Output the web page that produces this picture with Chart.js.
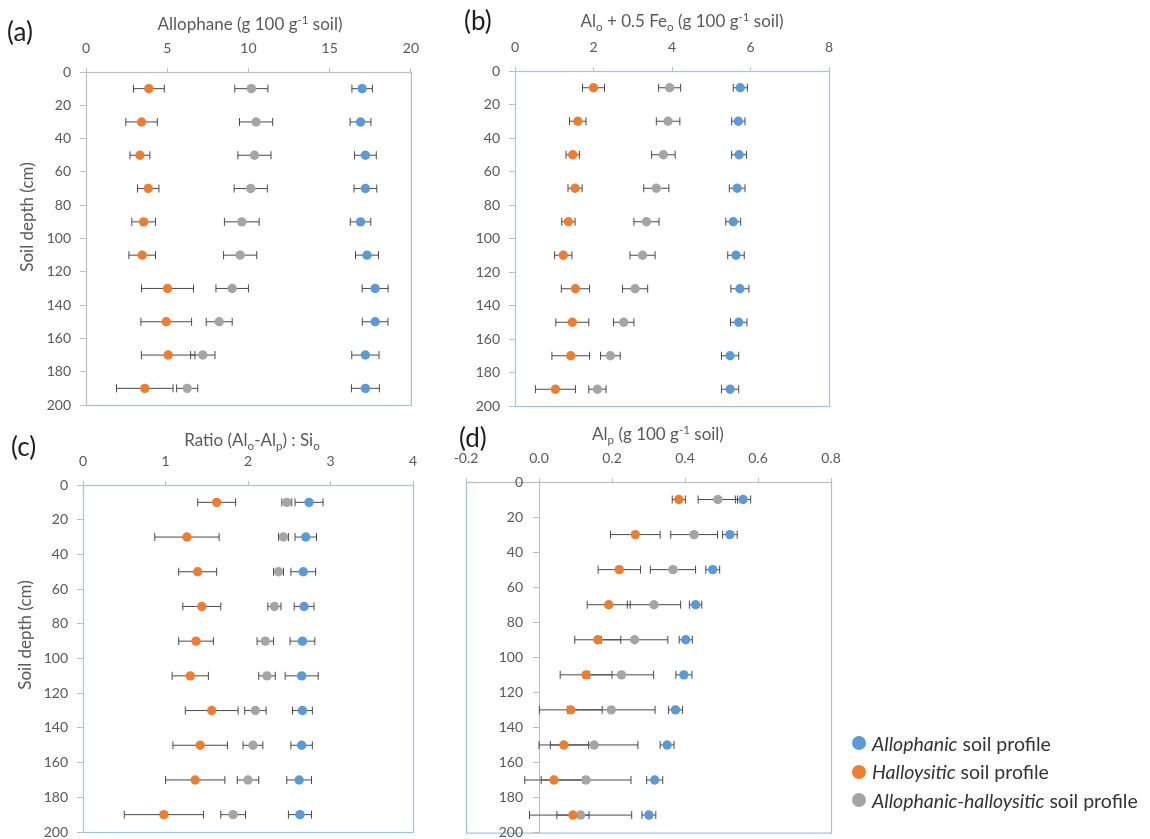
<!DOCTYPE html>
<html>
<head>
<meta charset="utf-8">
<script src="https://cdn.jsdelivr.net/npm/chart.js@4.4.0/dist/chart.umd.min.js"></script>
<style>
  html, body { margin: 0; padding: 0; background: #fff; width: 1150px; height: 839px; overflow: hidden; font-family: Lato, "Open Sans", sans-serif; }
  .panel { position: absolute; }
  .panel canvas { display: block; }
  .tag { position: absolute; color: #1e1e1e; font-size: 26px; line-height: 30px; white-space: nowrap; }
  .ttl { position: absolute; color: #595959; font-size: 17px; line-height: 22px; white-space: nowrap; transform: translateX(-50%); }
  .ytl { position: absolute; color: #595959; font-size: 17px; line-height: 22px; white-space: nowrap; transform: translate(-50%, -50%) rotate(-90deg); }
  sup, sub { font-size: 68%; line-height: 0; }
  sup { vertical-align: 0.55em; }
  sub { vertical-align: -0.35em; }
  .legend { position: absolute; left: 852px; top: 729px; color: #333; font-size: 19.5px; }
  .legend div { height: 28.5px; display: flex; align-items: center; white-space: nowrap; }
  .legend span.dot { display: inline-block; width: 14px; height: 14px; border-radius: 50%; margin-right: 6px; }
  .legend i { margin-right: 5px; }
</style>
</head>
<body>

<div class="panel" style="left:0px;top:0px"><canvas id="pa" width="430" height="425"></canvas></div>
<div class="panel" style="left:430px;top:0px"><canvas id="pb" width="430" height="425"></canvas></div>
<div class="panel" style="left:0px;top:420px"><canvas id="pc" width="430" height="430"></canvas></div>
<div class="panel" style="left:430px;top:420px"><canvas id="pd" width="430" height="430"></canvas></div>

<div class="tag" style="left:7px;top:16px">(a)</div>
<div class="tag" style="left:464px;top:5px">(b)</div>
<div class="tag" style="left:11px;top:431px">(c)</div>
<div class="tag" style="left:459px;top:422px">(d)</div>

<div class="ttl" style="left:250px;top:13px">Allophane (g 100 g<sup>-1</sup> soil)</div>
<div class="ttl" style="left:682px;top:10px">Al<sub>o</sub> + 0.5 Fe<sub>o</sub> (g 100 g<sup>-1</sup> soil)</div>
<div class="ttl" style="left:252px;top:429px">Ratio (Al<sub>o</sub>-Al<sub>p</sub>) : Si<sub>o</sub></div>
<div class="ttl" style="left:658px;top:423px">Al<sub>p</sub> (g 100 g<sup>-1</sup> soil)</div>

<div class="ytl" style="left:27px;top:217px">Soil depth (cm)</div>
<div class="ytl" style="left:25px;top:635px">Soil depth (cm)</div>

<div class="legend">
  <div><span class="dot" style="background:#5B9BD5"></span><i>Allophanic</i>soil profile</div>
  <div><span class="dot" style="background:#ED7D31"></span><i>Halloysitic</i>soil profile</div>
  <div><span class="dot" style="background:#A5A5A5"></span><i>Allophanic-halloysitic</i>soil profile</div>
</div>

<script>
// Sampling depths (cm) and shared depth axis ticks
const depthCm = [10, 30, 50, 70, 90, 110, 130, 150, 170, 190];
const depthTicks = [0, 20, 40, 60, 80, 100, 120, 140, 160, 180, 200];

// (a) Allophane, g 100 g-1 soil (mean and standard deviation)
const allophaneTicks = [0, 5, 10, 15, 20];
const allophaneAllophanic = [17.0, 16.9, 17.2, 17.2, 16.9, 17.3, 17.8, 17.8, 17.2, 17.2];
const allophaneAllophanicSd = [0.63, 0.64, 0.67, 0.70, 0.63, 0.71, 0.80, 0.79, 0.84, 0.86];
const allophaneHalloysitic = [3.87, 3.42, 3.32, 3.83, 3.55, 3.46, 5.02, 4.94, 5.06, 3.62];
const allophaneHalloysiticSd = [0.95, 0.97, 0.61, 0.66, 0.73, 0.82, 1.60, 1.56, 1.65, 1.74];
const allophaneMixed = [10.18, 10.47, 10.37, 10.14, 9.59, 9.49, 9.00, 8.20, 7.19, 6.23];
const allophaneMixedSd = [1.02, 1.02, 1.02, 1.02, 1.07, 1.02, 1.00, 0.80, 0.75, 0.65];

// (b) Alo + 0.5 Feo, g 100 g-1 soil
const alFeTicks = [0, 2, 4, 6, 8];
const alFeAllophanic = [5.74, 5.69, 5.71, 5.66, 5.56, 5.63, 5.73, 5.70, 5.48, 5.48];
const alFeAllophanicSd = [0.18, 0.17, 0.19, 0.20, 0.19, 0.21, 0.23, 0.21, 0.22, 0.22];
const alFeHalloysitic = [2.00, 1.60, 1.47, 1.53, 1.36, 1.23, 1.54, 1.46, 1.42, 1.03];
const alFeHalloysiticSd = [0.28, 0.21, 0.17, 0.18, 0.17, 0.22, 0.36, 0.42, 0.48, 0.51];
const alFeMixed = [3.94, 3.90, 3.78, 3.60, 3.35, 3.25, 3.06, 2.77, 2.43, 2.10];
const alFeMixedSd = [0.28, 0.30, 0.30, 0.32, 0.32, 0.32, 0.32, 0.26, 0.25, 0.22];

// (c) Ratio (Alo - Alp) : Sio
const ratioTicks = [0, 1, 2, 3, 4];
const ratioAllophanic = [2.74, 2.70, 2.67, 2.68, 2.66, 2.65, 2.66, 2.65, 2.62, 2.63];
const ratioAllophanicSd = [0.17, 0.13, 0.15, 0.12, 0.15, 0.20, 0.12, 0.13, 0.15, 0.14];
const ratioHalloysitic = [1.62, 1.26, 1.39, 1.44, 1.37, 1.30, 1.56, 1.42, 1.36, 0.98];
const ratioHalloysiticSd = [0.23, 0.39, 0.23, 0.23, 0.21, 0.22, 0.32, 0.33, 0.36, 0.48];
const ratioMixed = [2.47, 2.43, 2.37, 2.32, 2.21, 2.23, 2.09, 2.06, 2.00, 1.82];
const ratioMixedSd = [0.06, 0.06, 0.06, 0.08, 0.10, 0.10, 0.13, 0.12, 0.13, 0.15];

// (d) Alp, g 100 g-1 soil
const alpTicks = [-0.2, 0.0, 0.2, 0.4, 0.6, 0.8];
const alpAllophanic = [0.559, 0.523, 0.476, 0.429, 0.402, 0.397, 0.374, 0.351, 0.317, 0.301];
const alpAllophanicSd = [0.021, 0.020, 0.019, 0.017, 0.018, 0.022, 0.019, 0.019, 0.022, 0.019];
const alpHalloysitic = [0.383, 0.264, 0.220, 0.191, 0.161, 0.129, 0.087, 0.068, 0.041, 0.093];
const alpHalloysiticSd = [0.018, 0.068, 0.058, 0.059, 0.063, 0.071, 0.086, 0.068, 0.080, 0.044];
const alpMixed = [0.490, 0.425, 0.367, 0.315, 0.262, 0.226, 0.198, 0.151, 0.129, 0.114];
const alpMixedSd = [0.054, 0.064, 0.062, 0.073, 0.091, 0.088, 0.120, 0.120, 0.123, 0.140];

const COLORS = { allophanic: '#5B9BD5', halloysitic: '#ED7D31', mixed: '#A5A5A5' };
const TICK_FONT = { family: 'Lato', size: 14 };
const TICK_COLOR = '#595959';
const AXIS_COLOR = '#bfbfbf';
const FRAME_COLOR = '#9dc3e6';
const BAR_COLOR = '#4a4a4a';

function series(label, values, sd, color) {
  return {
    label,
    data: depthCm.map((d, i) => ({ x: values[i], y: d })),
    sd,
    backgroundColor: color,
    borderWidth: 0,
    pointRadius: 4.7,
    pointHoverRadius: 4.7,
    showLine: false
  };
}

// Light blue frame around the plot area
const plotFrame = {
  id: 'plotFrame',
  beforeDraw(chart) {
    const { ctx, chartArea: a } = chart;
    ctx.save();
    ctx.strokeStyle = FRAME_COLOR;
    ctx.lineWidth = 1.2;
    ctx.strokeRect(a.left + 0.5, a.top + 0.5, a.right - a.left, a.bottom - a.top);
    ctx.restore();
  }
};

// A depth axis crossing at a data value: keep its labels clear of the tick marks
const crossingAxisLabels = {
  id: 'crossingAxisLabels',
  beforeDraw(chart, args, opts) {
    const s = chart.scales.y;
    if (!opts.shift || typeof s.options.position !== 'object') return;
    const items = s.getLabelItems();
    if (items._shifted) return;
    items.forEach(it => { it.options.translation[0] -= opts.shift; });
    items._shifted = true;
  }
};

// Horizontal standard-deviation bars with end caps
const errorBars = {
  id: 'errorBars',
  beforeDatasetsDraw(chart) {
    const { ctx } = chart;
    const xs = chart.scales.x, ys = chart.scales.y;
    ctx.save();
    ctx.strokeStyle = BAR_COLOR;
    ctx.lineWidth = 1;
    chart.data.datasets.forEach(ds => {
      ds.data.forEach((p, i) => {
        const e = ds.sd[i];
        const x0 = xs.getPixelForValue(p.x - e);
        const x1 = xs.getPixelForValue(p.x + e);
        const y = ys.getPixelForValue(p.y);
        ctx.beginPath();
        ctx.moveTo(x0, y); ctx.lineTo(x1, y);
        ctx.moveTo(x0, y - 4); ctx.lineTo(x0, y + 4);
        ctx.moveTo(x1, y - 4); ctx.lineTo(x1, y + 4);
        ctx.stroke();
      });
    });
    ctx.restore();
  }
};

function makePanel(id, cfg) {
  const xTicks = cfg.xTicks;
  const yScale = {
    type: 'linear',
    reverse: true,
    min: 0,
    max: 200,
    afterBuildTicks: s => { s.ticks = depthTicks.map(v => ({ value: v })); },
    ticks: { font: TICK_FONT, color: TICK_COLOR, padding: 9 },
    grid: { drawOnChartArea: false, drawTicks: true, tickLength: 6, color: AXIS_COLOR },
    border: { display: true, color: AXIS_COLOR, width: 1 }
  };
  if (cfg.yAt !== undefined) {
    yScale.position = { x: cfg.yAt };
  } else {
    yScale.position = 'left';
    yScale.afterFit = s => { s.width = cfg.yWidth; };
  }
  new Chart(document.getElementById(id), {
    type: 'scatter',
    data: {
      datasets: [
        series('Allophanic soil profile', cfg.allophanic, cfg.allophanicSd, COLORS.allophanic),
        series('Halloysitic soil profile', cfg.halloysitic, cfg.halloysiticSd, COLORS.halloysitic),
        series('Allophanic-halloysitic soil profile', cfg.mixed, cfg.mixedSd, COLORS.mixed)
      ]
    },
    options: {
      responsive: false,
      animation: false,
      events: [],
      layout: { padding: cfg.padding },
      plugins: {
        legend: { display: false },
        tooltip: { enabled: false },
        crossingAxisLabels: { shift: cfg.yAt !== undefined ? 16 : 0 }
      },
      scales: {
        x: {
          type: 'linear',
          position: 'top',
          min: xTicks[0],
          max: xTicks[xTicks.length - 1],
          afterBuildTicks: s => { s.ticks = xTicks.map(v => ({ value: v })); },
          afterFit: s => { s.height = cfg.xHeight; },
          ticks: {
            font: TICK_FONT, color: TICK_COLOR, padding: 11, maxRotation: 0,
            callback: v => cfg.fmt ? cfg.fmt(v) : String(v)
          },
          grid: { drawOnChartArea: false, drawTicks: true, tickLength: 4, color: AXIS_COLOR },
          border: { display: true, color: AXIS_COLOR, width: 1 }
        },
        y: yScale
      }
    },
    plugins: [plotFrame, crossingAxisLabels, errorBars]
  });
}

makePanel('pa', {
  xTicks: allophaneTicks, yWidth: 86, xHeight: 72,
  padding: { left: 0, top: 0, right: 18, bottom: 20 },
  allophanic: allophaneAllophanic, allophanicSd: allophaneAllophanicSd,
  halloysitic: allophaneHalloysitic, halloysiticSd: allophaneHalloysiticSd,
  mixed: allophaneMixed, mixedSd: allophaneMixedSd
});

makePanel('pb', {
  xTicks: alFeTicks, yWidth: 85, xHeight: 71,
  padding: { left: 0, top: 0, right: 31, bottom: 19 },
  allophanic: alFeAllophanic, allophanicSd: alFeAllophanicSd,
  halloysitic: alFeHalloysitic, halloysiticSd: alFeHalloysiticSd,
  mixed: alFeMixed, mixedSd: alFeMixedSd
});

makePanel('pc', {
  xTicks: ratioTicks, yWidth: 83, xHeight: 65,
  padding: { left: 0, top: 0, right: 17, bottom: 18 },
  allophanic: ratioAllophanic, allophanicSd: ratioAllophanicSd,
  halloysitic: ratioHalloysitic, halloysiticSd: ratioHalloysiticSd,
  mixed: ratioMixed, mixedSd: ratioMixedSd
});

makePanel('pd', {
  xTicks: alpTicks, yAt: 0, xHeight: 62,
  padding: { left: 36, top: 0, right: 29, bottom: 15 },
  fmt: v => (Math.abs(v) < 1e-9 ? 0 : v).toFixed(1),
  allophanic: alpAllophanic, allophanicSd: alpAllophanicSd,
  halloysitic: alpHalloysitic, halloysiticSd: alpHalloysiticSd,
  mixed: alpMixed, mixedSd: alpMixedSd
});
</script>
</body>
</html>
